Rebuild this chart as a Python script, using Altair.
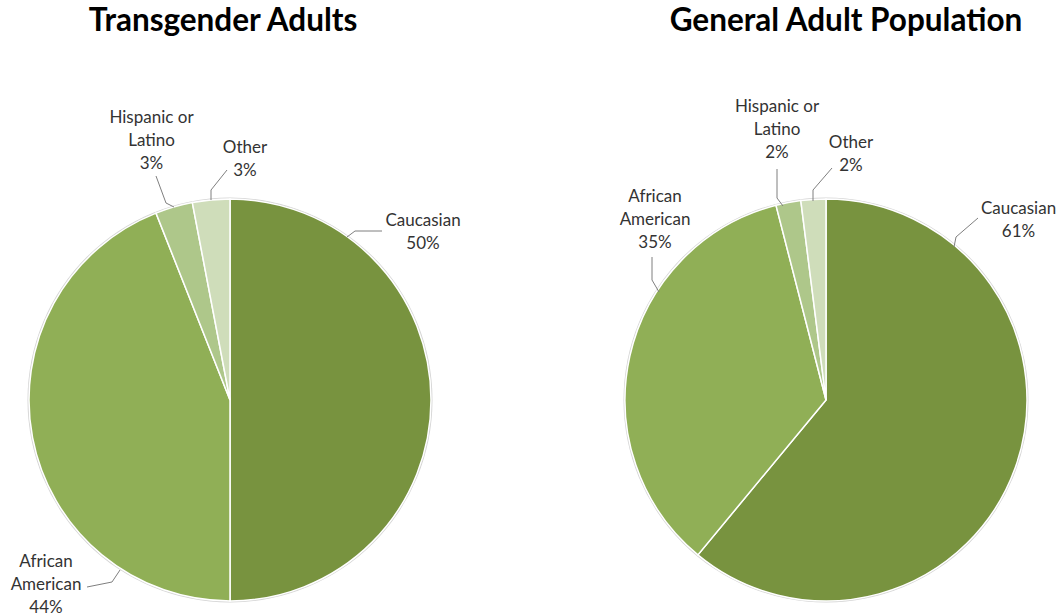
import altair as alt
import pandas as pd

# ---- data ----
categories = ["Caucasian", "African American", "Hispanic or Latino", "Other"]
label_names = ["Caucasian", "African\nAmerican", "Hispanic or\nLatino", "Other"]
trans_values = [50, 44, 3, 3]
general_values = [61, 35, 2, 2]
titles = ["Transgender Adults", "General Adult Population"]

# ---- style / layout ----
colors = ["#78933F", "#90AF56", "#AEC78A", "#CFDDBA"]
W, H = 460, 615
TOP = 400            # pie centre distance from the top of the panel
RADIUS = 201
FONT = "Lato"
LINE_H = 23

# label block centres (pixel offsets from pie centre)
trans_label_pos = [(193, -167.5), (-184, 185), (-78.5, -259), (15, -241)]
general_label_pos = [(192.5, -180), (-171, -180), (-49, -270), (25, -245.5)]
# title centres (pixel offsets from pie centre)
trans_title_pos = (-7, -378)
general_title_pos = (20, -378)

# leader-line vertices (pixel offsets from pie centre)
trans_leaders = [
    [(117, -163), (125, -169), (152, -169)],
    [(-110, 170), (-118, 182), (-143, 187)],
    [(-56, -193), (-64, -197), (-74, -224)],
    [(-19, -200), (-19, -210), (-3, -230)],
]
general_leaders = [
    [(128, -153), (130, -163), (152, -182)],
    [(-167, -108), (-174, -120), (-174, -143)],
    [(-43, -194), (-49, -202), (-49, -231)],
    [(-13, -199), (-13, -210), (6, -232)],
]


def panel(values, title, label_pos, leaders, title_pos):
    labels = [f"{n}\n{v}%" for n, v in zip(label_names, values)]
    n_lines = [lab.count("\n") + 1 for lab in labels]
    df = pd.DataFrame({
        "cat": categories,
        "value": values,
        "order": list(range(len(categories))),
        "label": labels,
        "lx": [p[0] for p in label_pos],
        "ly": [p[1] - (n - 1) * LINE_H / 2 for p, n in zip(label_pos, n_lines)],
        "cx": 0,
        "cy": 0,
    })
    rows = []
    for cat, pts in zip(categories, leaders):
        for i, (x, y) in enumerate(pts):
            rows.append({"cat": cat, "idx": i, "x": x, "y": y})
    lines_df = pd.DataFrame(rows)
    title_df = pd.DataFrame({"t": [title], "x": [title_pos[0]], "y": [title_pos[1]]})

    xs = alt.Scale(domain=[-W / 2, W / 2])
    ys = alt.Scale(domain=[-TOP, H - TOP], reverse=True)
    X = lambda f: alt.X(f, scale=xs, axis=None)
    Y = lambda f: alt.Y(f, scale=ys, axis=None)

    rim = alt.Chart(df.head(1)).mark_arc(
        outerRadius=RADIUS + 1.5, theta=0, theta2=6.2832, color="#d4d4d4"
    ).encode(x=X("cx:Q"), y=Y("cy:Q"))

    pie = alt.Chart(df).mark_arc(
        outerRadius=RADIUS, stroke="white", strokeWidth=1.5
    ).encode(
        x=X("cx:Q"), y=Y("cy:Q"),
        theta=alt.Theta("value:Q", stack=True),
        order=alt.Order("order:Q"),
        color=alt.Color("cat:N", scale=alt.Scale(domain=categories, range=colors), legend=None),
    )

    lines = alt.Chart(lines_df).mark_line(color="#7f7f7f", strokeWidth=1).encode(
        x=X("x:Q"), y=Y("y:Q"), detail="cat:N", order="idx:Q",
    )

    text = alt.Chart(df).mark_text(
        lineBreak="\n", fontSize=17, font=FONT, color="#333333",
        lineHeight=LINE_H, baseline="middle", align="center",
    ).encode(x=X("lx:Q"), y=Y("ly:Q"), text="label:N")

    ttl = alt.Chart(title_df).mark_text(
        fontSize=31.5, font=FONT, fontWeight="bold", color="black",
        baseline="middle", align="center",
    ).encode(x=X("x:Q"), y=Y("y:Q"), text="t:N")

    return alt.layer(rim, pie, lines, text, ttl).properties(width=W, height=H)


left = panel(trans_values, titles[0], trans_label_pos, trans_leaders, trans_title_pos)
right = panel(general_values, titles[1], general_label_pos, general_leaders, general_title_pos)

chart = alt.hconcat(left, right, spacing=135).properties(
    padding={"left": 0, "top": 0, "right": 0, "bottom": 0}
).configure_view(stroke=None)

chart.save("out.html", embed_options={"renderer": "svg", "actions": False})
